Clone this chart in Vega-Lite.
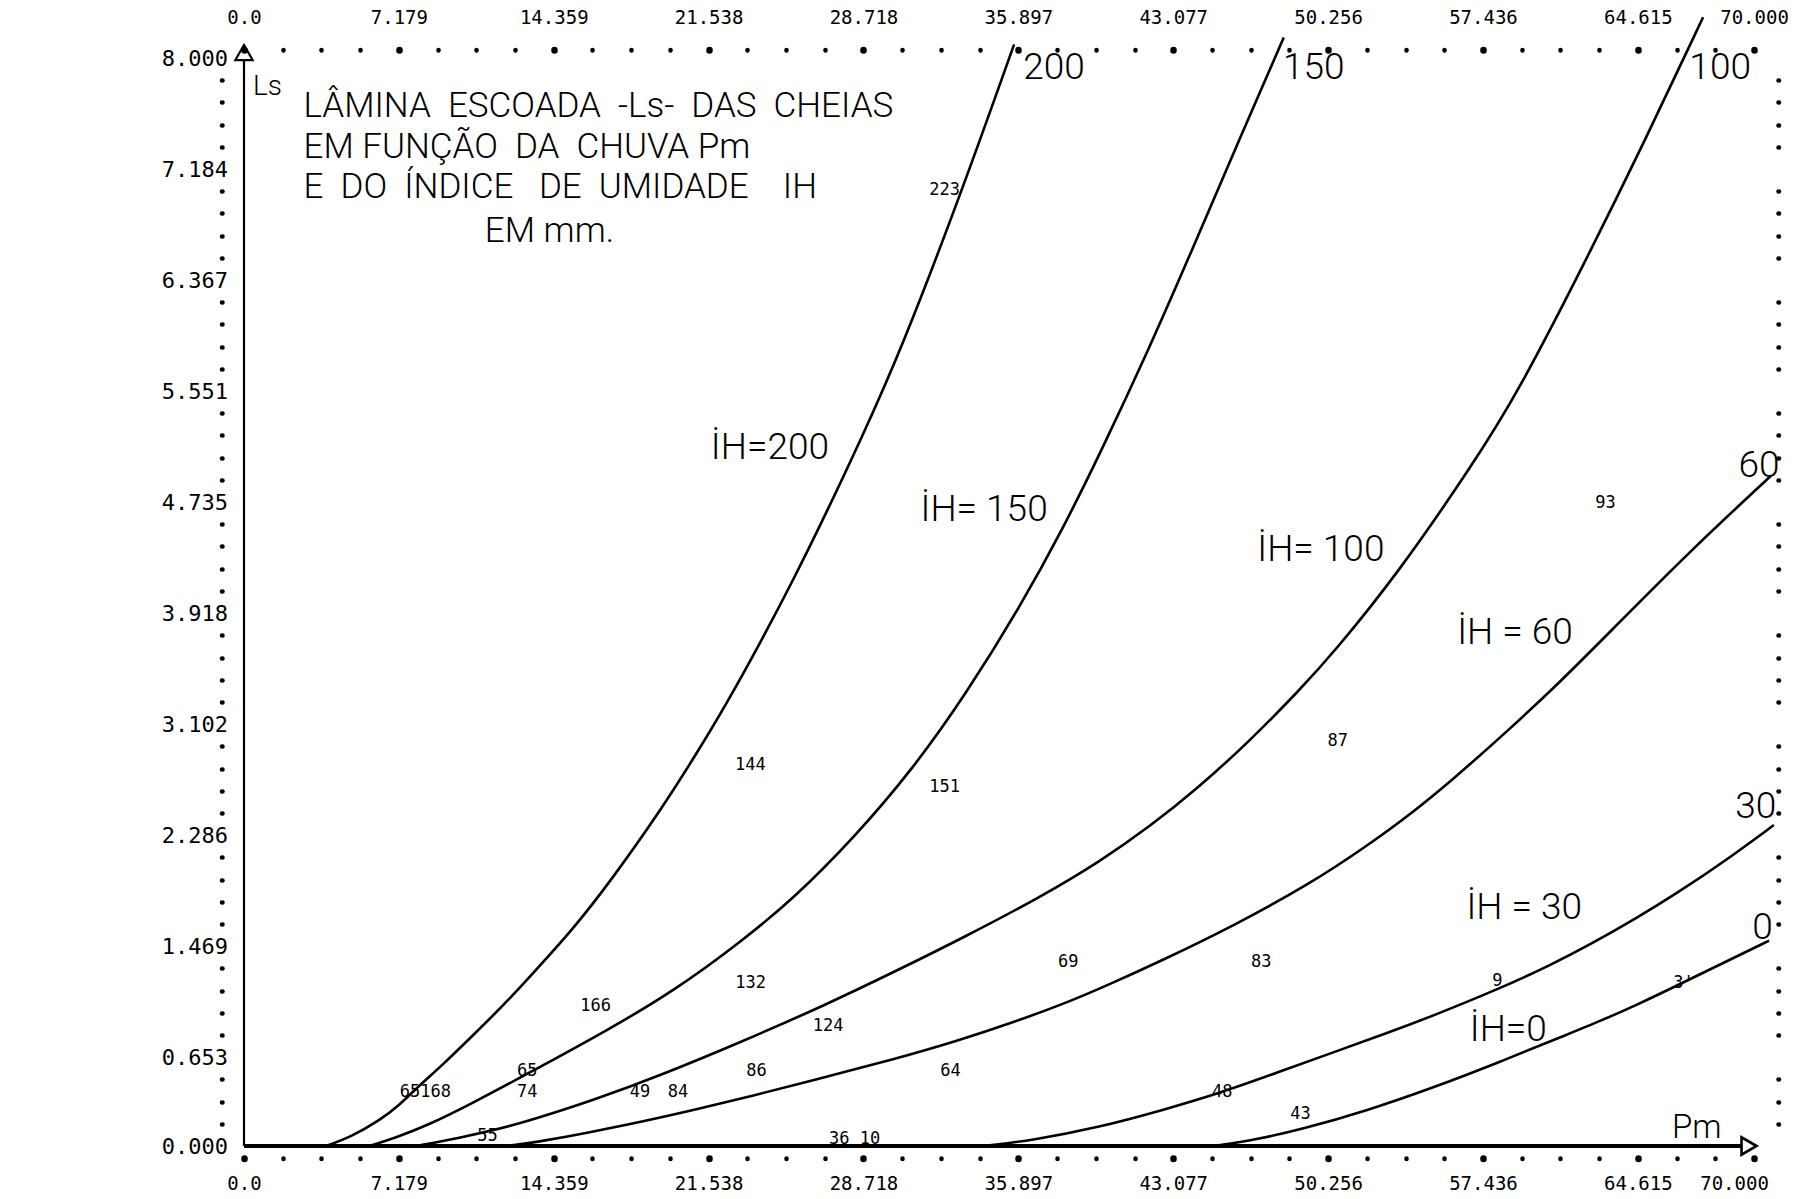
{
  "$schema": "https://vega.github.io/schema/vega-lite/v6.json",
  "width": 1510,
  "height": 1088,
  "autosize": {"type": "none"},
  "padding": {"left": 244, "top": 58, "right": 56, "bottom": 53},
  "background": "white",
  "config": {
    "view": {"stroke": null},
    "axis": {"domain": false, "grid": false, "title": null, "tickColor": "black", "labelColor": "black", "tickCap": "round", "labelFont": "DejaVu Sans Mono", "labelFontSize": 19, "labelOverlap": false, "labelFlush": false, "labelBound": false}
  },
  "resolve": {"axis": {"x": "independent", "y": "independent"}},
  "layer": [
    {
      "data": {"values": [
        {"IH": 200, "Pm": 3.8, "Ls": 0}, {"IH": 200, "Pm": 5.0, "Ls": 0.07}, {"IH": 200, "Pm": 6.3, "Ls": 0.19}, {"IH": 200, "Pm": 7.2, "Ls": 0.3}, {"IH": 200, "Pm": 8.03, "Ls": 0.43}, {"IH": 200, "Pm": 9.3, "Ls": 0.61}, {"IH": 200, "Pm": 10.65, "Ls": 0.82}, {"IH": 200, "Pm": 12.0, "Ls": 1.03}, {"IH": 200, "Pm": 13.28, "Ls": 1.25}, {"IH": 200, "Pm": 15.29, "Ls": 1.6}, {"IH": 200, "Pm": 17.0, "Ls": 1.95}, {"IH": 200, "Pm": 19.2, "Ls": 2.44}, {"IH": 200, "Pm": 21.0, "Ls": 2.89}, {"IH": 200, "Pm": 22.4, "Ls": 3.26}, {"IH": 200, "Pm": 24.0, "Ls": 3.72}, {"IH": 200, "Pm": 25.49, "Ls": 4.17}, {"IH": 200, "Pm": 27.04, "Ls": 4.67}, {"IH": 200, "Pm": 28.58, "Ls": 5.19}, {"IH": 200, "Pm": 30.43, "Ls": 5.84}, {"IH": 200, "Pm": 33.3, "Ls": 7.03}, {"IH": 200, "Pm": 35.7, "Ls": 8.1},
        {"IH": 150, "Pm": 5.8, "Ls": 0}, {"IH": 150, "Pm": 7.0, "Ls": 0.06}, {"IH": 150, "Pm": 8.5, "Ls": 0.15}, {"IH": 150, "Pm": 10.65, "Ls": 0.32}, {"IH": 150, "Pm": 13.13, "Ls": 0.53}, {"IH": 150, "Pm": 16.84, "Ls": 0.85}, {"IH": 150, "Pm": 19.93, "Ls": 1.14}, {"IH": 150, "Pm": 23.02, "Ls": 1.5}, {"IH": 150, "Pm": 25.49, "Ls": 1.82}, {"IH": 150, "Pm": 28.3, "Ls": 2.27}, {"IH": 150, "Pm": 31.0, "Ls": 2.77}, {"IH": 150, "Pm": 33.5, "Ls": 3.33}, {"IH": 150, "Pm": 36.0, "Ls": 3.97}, {"IH": 150, "Pm": 38.0, "Ls": 4.55}, {"IH": 150, "Pm": 39.71, "Ls": 5.1}, {"IH": 150, "Pm": 41.95, "Ls": 5.86}, {"IH": 150, "Pm": 43.9, "Ls": 6.57}, {"IH": 150, "Pm": 46.0, "Ls": 7.35}, {"IH": 150, "Pm": 48.2, "Ls": 8.15},
        {"IH": 100, "Pm": 8.0, "Ls": 0}, {"IH": 100, "Pm": 10.0, "Ls": 0.06}, {"IH": 100, "Pm": 12.5, "Ls": 0.15}, {"IH": 100, "Pm": 14.3, "Ls": 0.24}, {"IH": 100, "Pm": 16.06, "Ls": 0.33}, {"IH": 100, "Pm": 19.16, "Ls": 0.51}, {"IH": 100, "Pm": 23.02, "Ls": 0.763}, {"IH": 100, "Pm": 27.0, "Ls": 1.04}, {"IH": 100, "Pm": 30.4, "Ls": 1.3}, {"IH": 100, "Pm": 33.5, "Ls": 1.545}, {"IH": 100, "Pm": 36.92, "Ls": 1.83}, {"IH": 100, "Pm": 39.71, "Ls": 2.095}, {"IH": 100, "Pm": 42.0, "Ls": 2.35}, {"IH": 100, "Pm": 44.2, "Ls": 2.63}, {"IH": 100, "Pm": 46.51, "Ls": 2.96}, {"IH": 100, "Pm": 48.98, "Ls": 3.36}, {"IH": 100, "Pm": 50.52, "Ls": 3.63}, {"IH": 100, "Pm": 53.45, "Ls": 4.2}, {"IH": 100, "Pm": 57.0, "Ls": 5.02}, {"IH": 100, "Pm": 59.02, "Ls": 5.53}, {"IH": 100, "Pm": 62.11, "Ls": 6.48}, {"IH": 100, "Pm": 65.0, "Ls": 7.41}, {"IH": 100, "Pm": 67.64, "Ls": 8.3},
        {"IH": 60, "Pm": 12.2, "Ls": 0}, {"IH": 60, "Pm": 14.0, "Ls": 0.04}, {"IH": 60, "Pm": 16.0, "Ls": 0.1}, {"IH": 60, "Pm": 18.5, "Ls": 0.18}, {"IH": 60, "Pm": 21.0, "Ls": 0.27}, {"IH": 60, "Pm": 23.6, "Ls": 0.37}, {"IH": 60, "Pm": 26.3, "Ls": 0.48}, {"IH": 60, "Pm": 30.3, "Ls": 0.645}, {"IH": 60, "Pm": 33.0, "Ls": 0.77}, {"IH": 60, "Pm": 35.7, "Ls": 0.91}, {"IH": 60, "Pm": 38.4, "Ls": 1.07}, {"IH": 60, "Pm": 40.0, "Ls": 1.18}, {"IH": 60, "Pm": 42.5, "Ls": 1.36}, {"IH": 60, "Pm": 45.89, "Ls": 1.62}, {"IH": 60, "Pm": 49.44, "Ls": 1.93}, {"IH": 60, "Pm": 52.0, "Ls": 2.2}, {"IH": 60, "Pm": 54.08, "Ls": 2.44}, {"IH": 60, "Pm": 56.0, "Ls": 2.69}, {"IH": 60, "Pm": 58.5, "Ls": 3.04}, {"IH": 60, "Pm": 61.0, "Ls": 3.41}, {"IH": 60, "Pm": 63.2, "Ls": 3.76}, {"IH": 60, "Pm": 67.0, "Ls": 4.37}, {"IH": 60, "Pm": 70.8, "Ls": 4.93},
        {"IH": 30, "Pm": 34.3, "Ls": 0}, {"IH": 30, "Pm": 36.5, "Ls": 0.04}, {"IH": 30, "Pm": 39.7, "Ls": 0.14}, {"IH": 30, "Pm": 42.5, "Ls": 0.26}, {"IH": 30, "Pm": 45.27, "Ls": 0.39}, {"IH": 30, "Pm": 47.9, "Ls": 0.54}, {"IH": 30, "Pm": 50.52, "Ls": 0.69}, {"IH": 30, "Pm": 53.0, "Ls": 0.83}, {"IH": 30, "Pm": 55.16, "Ls": 0.96}, {"IH": 30, "Pm": 58.25, "Ls": 1.16}, {"IH": 30, "Pm": 60.57, "Ls": 1.33}, {"IH": 30, "Pm": 62.5, "Ls": 1.49}, {"IH": 30, "Pm": 64.5, "Ls": 1.67}, {"IH": 30, "Pm": 66.44, "Ls": 1.86}, {"IH": 30, "Pm": 68.7, "Ls": 2.1}, {"IH": 30, "Pm": 70.92, "Ls": 2.36},
        {"IH": 0, "Pm": 45.0, "Ls": 0}, {"IH": 0, "Pm": 47.0, "Ls": 0.05}, {"IH": 0, "Pm": 48.98, "Ls": 0.12}, {"IH": 0, "Pm": 52.07, "Ls": 0.26}, {"IH": 0, "Pm": 55.16, "Ls": 0.43}, {"IH": 0, "Pm": 58.25, "Ls": 0.62}, {"IH": 0, "Pm": 61.34, "Ls": 0.82}, {"IH": 0, "Pm": 62.89, "Ls": 0.92}, {"IH": 0, "Pm": 64.6, "Ls": 1.04}, {"IH": 0, "Pm": 66.3, "Ls": 1.17}, {"IH": 0, "Pm": 68.5, "Ls": 1.34}, {"IH": 0, "Pm": 70.7, "Ls": 1.51}
      ]},
      "mark": {"type": "line", "interpolate": "basis", "color": "black", "strokeWidth": 2.6, "clip": false},
      "encoding": {
        "x": {"field": "Pm", "type": "quantitative", "scale": {"domain": [0, 70], "nice": false, "zero": false},
          "axis": {"orient": "bottom", "offset": 12, "tickSize": 0.5,
            "values": [0,1.794872,3.589744,5.384615,7.179487,8.974359,10.769231,12.564103,14.358974,16.153846,17.948718,19.74359,21.538462,23.333333,25.128205,26.923077,28.717949,30.512821,32.307692,34.102564,35.897436,37.692308,39.487179,41.282051,43.076923,44.871795,46.666667,48.461538,50.25641,52.051282,53.846154,55.641026,57.435897,59.230769,61.025641,62.820513,64.615385,66.410256,68.205128,70],
            "tickWidth": {"condition": {"test": "round(datum.value*39/70) % 4 == 0 || round(datum.value*39/70) == 39", "value": 6.5}, "value": 4.5},
            "labelPadding": 16,
            "labelOffset": {"condition": {"test": "datum.value > 69", "value": -20}, "value": 0},
            "labelExpr": "(round(datum.value*39/70) % 4 == 0 || round(datum.value*39/70) == 39) ? (datum.value == 0 ? '0.0' : format(datum.value, '.3f')) : ''"}},
        "y": {"field": "Ls", "type": "quantitative", "scale": {"domain": [0, 8], "nice": false, "zero": false},
          "axis": {"orient": "left", "offset": 22, "tickSize": 0.5, "tickWidth": 4.5, "labelFontSize": 22,
            "values": [0,0.163265,0.326531,0.489796,0.653061,0.816327,0.979592,1.142857,1.306122,1.469388,1.632653,1.795918,1.959184,2.122449,2.285714,2.44898,2.612245,2.77551,2.938776,3.102041,3.265306,3.428571,3.591837,3.755102,3.918367,4.081633,4.244898,4.408163,4.571429,4.734694,4.897959,5.061224,5.22449,5.387755,5.55102,5.714286,5.877551,6.040816,6.204082,6.367347,6.530612,6.693878,6.857143,7.020408,7.183673,7.346939,7.510204,7.673469,7.836735,8],
            "tickOpacity": {"condition": {"test": "round(datum.value*49/8) == 0 || (49 - round(datum.value*49/8)) % 5 == 0", "value": 0}, "value": 1},
            "labelPadding": -6,
            "labelExpr": "(round(datum.value*49/8) == 0 || (49 - round(datum.value*49/8)) % 5 == 0) ? format(datum.value, '.3f') : ''"}},
        "detail": {"field": "IH", "type": "nominal"}
      }
    },
    {
      "data": {"values": [
        {"Pm": 2.76, "Ls": 7.646, "t": "LÂMINA \u00a0ESCOADA \u00a0-Ls- \u00a0DAS \u00a0CHEIAS"},
        {"Pm": 2.76, "Ls": 7.349, "t": "EM FUNÇÃO \u00a0DA \u00a0CHUVA Pm"},
        {"Pm": 2.76, "Ls": 7.051, "t": "E \u00a0DO \u00a0ÍNDICE \u00a0\u00a0DE \u00a0UMIDADE \u00a0\u00a0\u00a0IH"}
      ]},
      "mark": {"type": "text", "align": "left", "baseline": "middle", "font": "Roboto", "fontWeight": 300, "fontSize": 35, "color": "black"},
      "encoding": {
        "x": {"field": "Pm", "type": "quantitative", "scale": {"domain": [0, 70], "nice": false, "zero": false},
          "axis": {"orient": "top", "offset": 8, "tickSize": 0.5,
            "values": [0,1.794872,3.589744,5.384615,7.179487,8.974359,10.769231,12.564103,14.358974,16.153846,17.948718,19.74359,21.538462,23.333333,25.128205,26.923077,28.717949,30.512821,32.307692,34.102564,35.897436,37.692308,39.487179,41.282051,43.076923,44.871795,46.666667,48.461538,50.25641,52.051282,53.846154,55.641026,57.435897,59.230769,61.025641,62.820513,64.615385,66.410256,68.205128,70],
            "tickWidth": {"condition": {"test": "round(datum.value*39/70) % 4 == 0 || round(datum.value*39/70) == 39", "value": 6.5}, "value": 4.5},
            "labelPadding": 22,
            "labelExpr": "(round(datum.value*39/70) % 4 == 0 || round(datum.value*39/70) == 39) ? (datum.value == 0 ? '0.0' : format(datum.value, '.3f')) : ''"}},
        "y": {"field": "Ls", "type": "quantitative", "scale": {"domain": [0, 8], "nice": false, "zero": false},
          "axis": {"orient": "right", "offset": 24, "tickSize": 0.5, "tickWidth": 4.5, "labels": false,
            "values": [0,0.163265,0.326531,0.489796,0.653061,0.816327,0.979592,1.142857,1.306122,1.469388,1.632653,1.795918,1.959184,2.122449,2.285714,2.44898,2.612245,2.77551,2.938776,3.102041,3.265306,3.428571,3.591837,3.755102,3.918367,4.081633,4.244898,4.408163,4.571429,4.734694,4.897959,5.061224,5.22449,5.387755,5.55102,5.714286,5.877551,6.040816,6.204082,6.367347,6.530612,6.693878,6.857143,7.020408,7.183673,7.346939,7.510204,7.673469,7.836735,8],
            "tickOpacity": {"condition": {"test": "round(datum.value*49/8) == 0 || (49 - round(datum.value*49/8)) % 5 == 0", "value": 0}, "value": 1}}},
        "text": {"field": "t"}
      }
    },
    {
      "data": {"values": [{"Pm": 14.16, "Ls": 6.728, "t": "EM mm."}]},
      "mark": {"type": "text", "align": "center", "baseline": "middle", "font": "Roboto", "fontWeight": 300, "fontSize": 35, "color": "black"},
      "encoding": {
        "x": {"field": "Pm", "type": "quantitative", "scale": {"domain": [0, 70], "nice": false, "zero": false}, "axis": null},
        "y": {"field": "Ls", "type": "quantitative", "scale": {"domain": [0, 8], "nice": false, "zero": false}, "axis": null},
        "text": {"field": "t"}
      }
    },
    {
      "data": {"values": [
        {"Pm": 24.38, "Ls": 5.13, "t": "İH=200"},
        {"Pm": 34.31, "Ls": 4.68, "t": "İH= 150"},
        {"Pm": 49.92, "Ls": 4.38, "t": "İH= 100"},
        {"Pm": 58.92, "Ls": 3.77, "t": "İH = 60"},
        {"Pm": 59.35, "Ls": 1.75, "t": "İH = 30"},
        {"Pm": 58.61, "Ls": 0.85, "t": "İH=0"}
      ]},
      "mark": {"type": "text", "align": "center", "baseline": "middle", "font": "Roboto", "fontWeight": 300, "fontSize": 37, "color": "black"},
      "encoding": {
        "x": {"field": "Pm", "type": "quantitative", "scale": {"domain": [0, 70], "nice": false, "zero": false}, "axis": null},
        "y": {"field": "Ls", "type": "quantitative", "scale": {"domain": [0, 8], "nice": false, "zero": false}, "axis": null},
        "text": {"field": "t"}
      }
    },
    {
      "data": {"values": [
        {"Pm": 37.55, "Ls": 7.93, "t": "200"},
        {"Pm": 49.59, "Ls": 7.93, "t": "150"},
        {"Pm": 68.43, "Ls": 7.93, "t": "100"},
        {"Pm": 70.23, "Ls": 5.0, "t": "60"},
        {"Pm": 70.08, "Ls": 2.49, "t": "30"},
        {"Pm": 70.4, "Ls": 1.6, "t": "0"}
      ]},
      "mark": {"type": "text", "align": "center", "baseline": "middle", "font": "Roboto", "fontWeight": 300, "fontSize": 37, "color": "black"},
      "encoding": {
        "x": {"field": "Pm", "type": "quantitative", "scale": {"domain": [0, 70], "nice": false, "zero": false}, "axis": null},
        "y": {"field": "Ls", "type": "quantitative", "scale": {"domain": [0, 8], "nice": false, "zero": false}, "axis": null},
        "text": {"field": "t"}
      }
    },
    {
      "data": {"values": [{"Pm": 0.42, "Ls": 7.79, "t": "Ls"}]},
      "mark": {"type": "text", "align": "left", "baseline": "middle", "font": "Roboto", "fontWeight": 300, "fontSize": 28, "color": "black"},
      "encoding": {
        "x": {"field": "Pm", "type": "quantitative", "scale": {"domain": [0, 70], "nice": false, "zero": false}, "axis": null},
        "y": {"field": "Ls", "type": "quantitative", "scale": {"domain": [0, 8], "nice": false, "zero": false}, "axis": null},
        "text": {"field": "t"}
      }
    },
    {
      "data": {"values": [{"Pm": 67.35, "Ls": 0.13, "t": "Pm"}]},
      "mark": {"type": "text", "align": "center", "baseline": "middle", "font": "Roboto", "fontWeight": 300, "fontSize": 33, "color": "black"},
      "encoding": {
        "x": {"field": "Pm", "type": "quantitative", "scale": {"domain": [0, 70], "nice": false, "zero": false}, "axis": null},
        "y": {"field": "Ls", "type": "quantitative", "scale": {"domain": [0, 8], "nice": false, "zero": false}, "axis": null},
        "text": {"field": "t"}
      }
    },
    {
      "data": {"values": [
        {"Pm": 32.48, "Ls": 7.03, "t": "223"},
        {"Pm": 23.47, "Ls": 2.8, "t": "144"},
        {"Pm": 32.48, "Ls": 2.64, "t": "151"},
        {"Pm": 63.12, "Ls": 4.73, "t": "93"},
        {"Pm": 50.7, "Ls": 2.975, "t": "87"},
        {"Pm": 38.21, "Ls": 1.35, "t": "69"},
        {"Pm": 47.16, "Ls": 1.35, "t": "83"},
        {"Pm": 58.1, "Ls": 1.21, "t": "9"},
        {"Pm": 66.73, "Ls": 1.2, "t": "3'"},
        {"Pm": 16.3, "Ls": 1.03, "t": "166"},
        {"Pm": 23.49, "Ls": 1.195, "t": "132"},
        {"Pm": 27.08, "Ls": 0.88, "t": "124"},
        {"Pm": 23.76, "Ls": 0.55, "t": "86"},
        {"Pm": 32.75, "Ls": 0.55, "t": "64"},
        {"Pm": 45.35, "Ls": 0.394, "t": "48"},
        {"Pm": 48.98, "Ls": 0.234, "t": "43"},
        {"Pm": 8.41, "Ls": 0.394, "t": "65168"},
        {"Pm": 13.13, "Ls": 0.553, "t": "65"},
        {"Pm": 13.13, "Ls": 0.394, "t": "74"},
        {"Pm": 18.36, "Ls": 0.395, "t": "49"},
        {"Pm": 20.12, "Ls": 0.395, "t": "84"},
        {"Pm": 11.29, "Ls": 0.07, "t": "55"},
        {"Pm": 28.31, "Ls": 0.055, "t": "36 10"}
      ]},
      "mark": {"type": "text", "align": "center", "baseline": "middle", "font": "DejaVu Sans Mono", "fontSize": 17, "color": "black"},
      "encoding": {
        "x": {"field": "Pm", "type": "quantitative", "scale": {"domain": [0, 70], "nice": false, "zero": false}, "axis": null},
        "y": {"field": "Ls", "type": "quantitative", "scale": {"domain": [0, 8], "nice": false, "zero": false}, "axis": null},
        "text": {"field": "t"}
      }
    },
    {
      "data": {"values": [{"Pm": 0, "Ls": 0, "Pm2": 0, "Ls2": 7.98}]},
      "mark": {"type": "rule", "color": "black", "strokeWidth": 2.2},
      "encoding": {
        "x": {"field": "Pm", "type": "quantitative", "scale": {"domain": [0, 70], "nice": false, "zero": false}, "axis": null},
        "y": {"field": "Ls", "type": "quantitative", "scale": {"domain": [0, 8], "nice": false, "zero": false}, "axis": null},
        "x2": {"field": "Pm2"},
        "y2": {"field": "Ls2"}
      }
    },
    {
      "data": {"values": [{"Pm": 0, "Ls": 0, "Pm2": 69.4, "Ls2": 0}]},
      "mark": {"type": "rule", "color": "black", "strokeWidth": 4},
      "encoding": {
        "x": {"field": "Pm", "type": "quantitative", "scale": {"domain": [0, 70], "nice": false, "zero": false}, "axis": null},
        "y": {"field": "Ls", "type": "quantitative", "scale": {"domain": [0, 8], "nice": false, "zero": false}, "axis": null},
        "x2": {"field": "Pm2"},
        "y2": {"field": "Ls2"}
      }
    },
    {
      "data": {"values": [{"Pm": 0, "Ls": 8.04}]},
      "mark": {"type": "point", "shape": "triangle-up", "filled": false, "size": 300, "color": "black", "strokeWidth": 2.2, "opacity": 1},
      "encoding": {
        "x": {"field": "Pm", "type": "quantitative", "scale": {"domain": [0, 70], "nice": false, "zero": false}, "axis": null},
        "y": {"field": "Ls", "type": "quantitative", "scale": {"domain": [0, 8], "nice": false, "zero": false}, "axis": null}
      }
    },
    {
      "data": {"values": [{"Pm": 69.77, "Ls": 0}]},
      "mark": {"type": "point", "shape": "triangle-right", "filled": false, "size": 300, "color": "black", "strokeWidth": 2.6, "opacity": 1},
      "encoding": {
        "x": {"field": "Pm", "type": "quantitative", "scale": {"domain": [0, 70], "nice": false, "zero": false}, "axis": null},
        "y": {"field": "Ls", "type": "quantitative", "scale": {"domain": [0, 8], "nice": false, "zero": false}, "axis": null}
      }
    }
  ]
}
